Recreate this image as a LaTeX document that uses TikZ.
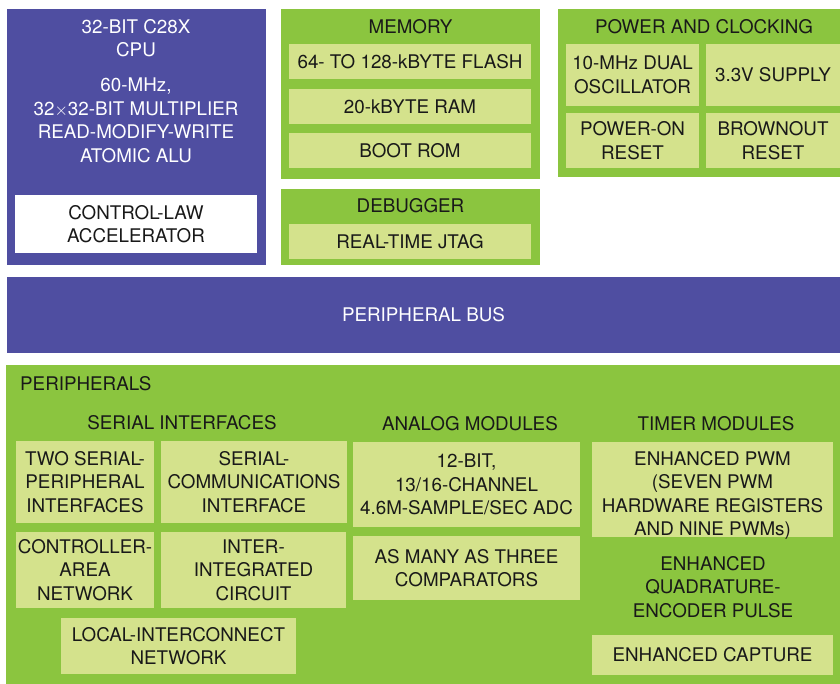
\documentclass[tikz,border=0pt]{standalone}
\usepackage{fontspec}
\setmainfont{TeX Gyre Heros}
\definecolor{cpurple}{RGB}{79,78,161}
\definecolor{cgreen}{RGB}{139,197,63}
\definecolor{clight}{RGB}{212,226,140}
\definecolor{ctext}{RGB}{25,25,25}
\tikzset{
  x=1pt, y=-1pt,
  base/.style={inner sep=0pt, outer sep=0pt, anchor=north west, align=center,
    font=\fontsize{18.8}{23.5}\selectfont},
  purplebox/.style={base, fill=cpurple, text=white},
  greenbox/.style={base, fill=cgreen, text=ctext},
  lightbox/.style={base, fill=clight, text=ctext},
  whitebox/.style={base, fill=white, text=ctext},
  label/.style={inner sep=0pt, align=center, font=\fontsize{18.8}{23.5}\selectfont},
  wlabel/.style={label, text=white},
  glabel/.style={label, text=ctext},
}
\newcommand{\bx}[7]{\node[#6, minimum width={#4-#2}, minimum height={#5-#3}] (#1) at (#2,#3) {#7};}
\begin{document}
\begin{tikzpicture}
\useasboundingbox (0,0) rectangle (840,684);
% CPU
\bx{cpu}{7}{9}{266}{265}{purplebox}{}
\node[wlabel] (cputitle) at (136,38) {32-BIT C28X\\CPU};
\node[wlabel] (cpufeat) at (136,120.5) {60-MHz,\\32$\times$32-BIT MULTIPLIER\\READ-MODIFY-WRITE\\ATOMIC ALU};
\bx{cla}{15}{195}{257}{253}{whitebox}{CONTROL-LAW\\ACCELERATOR}
% Memory
\bx{mem}{281}{9}{540}{179}{greenbox}{}
\node[glabel] (memt) at (410.5,27) {MEMORY};
\bx{flash}{289}{44}{531}{79}{lightbox}{64- TO 128-kBYTE FLASH}
\bx{ram}{289}{89}{531}{124}{lightbox}{20-kBYTE RAM}
\bx{rom}{289}{133}{531}{168}{lightbox}{BOOT ROM}
% Debugger
\bx{dbg}{281}{189}{540}{265}{greenbox}{}
\node[glabel] (dbgt) at (410.5,206) {DEBUGGER};
\bx{jtag}{289}{224}{531}{259}{lightbox}{REAL-TIME JTAG}
% Power
\bx{pwr}{558}{9}{840}{177}{greenbox}{}
\node[glabel] (pwrt) at (704,27) {POWER AND CLOCKING};
\bx{osc}{566}{44}{699}{106}{lightbox}{10-MHz DUAL\\OSCILLATOR}
\bx{sup}{706}{44}{840}{106}{lightbox}{3.3V SUPPLY}
\bx{por}{566}{113}{699}{168}{lightbox}{POWER-ON\\RESET}
\bx{bor}{706}{113}{840}{168}{lightbox}{BROWNOUT\\RESET}
% Bus
\bx{bus}{7}{277}{840}{353}{purplebox}{PERIPHERAL BUS}
% Peripherals
\bx{per}{6}{365}{840}{684}{greenbox}{}
\node[glabel, anchor=west] (pert) at (20,384) {PERIPHERALS};
\node[glabel] (sert) at (182,423) {SERIAL INTERFACES};
\bx{spi}{16}{441}{154}{523}{lightbox}{TWO SERIAL-\\PERIPHERAL\\INTERFACES}
\bx{sci}{161}{441}{347}{523}{lightbox}{SERIAL-\\COMMUNICATIONS\\INTERFACE}
\bx{can}{16}{532}{154}{608}{lightbox}{CONTROLLER-\\AREA\\NETWORK}
\bx{iic}{161}{532}{346}{608}{lightbox}{INTER-\\INTEGRATED\\CIRCUIT}
\bx{lin}{61}{618}{296}{674}{lightbox}{LOCAL-INTERCONNECT\\NETWORK}
\node[glabel] (anat) at (470,424) {ANALOG MODULES};
\bx{adc}{353}{442}{580}{527}{lightbox}{12-BIT,\\13/16-CHANNEL\\4.6M-SAMPLE/SEC ADC}
\bx{cmp}{353}{536}{580}{600}{lightbox}{AS MANY AS THREE\\COMPARATORS}
\node[glabel] (timt) at (716,424) {TIMER MODULES};
\bx{pwm}{592}{442}{833}{537}{lightbox}{}
\node[glabel] (pwmt) at (712.5,495.5) {ENHANCED PWM\\(SEVEN PWM\\HARDWARE REGISTERS\\AND NINE PWMs)};
\node[glabel] (qep) at (713,587) {ENHANCED\\QUADRATURE-\\ENCODER PULSE};
\bx{cap}{592}{635}{833}{675}{lightbox}{ENHANCED CAPTURE}
\end{tikzpicture}
\end{document}
